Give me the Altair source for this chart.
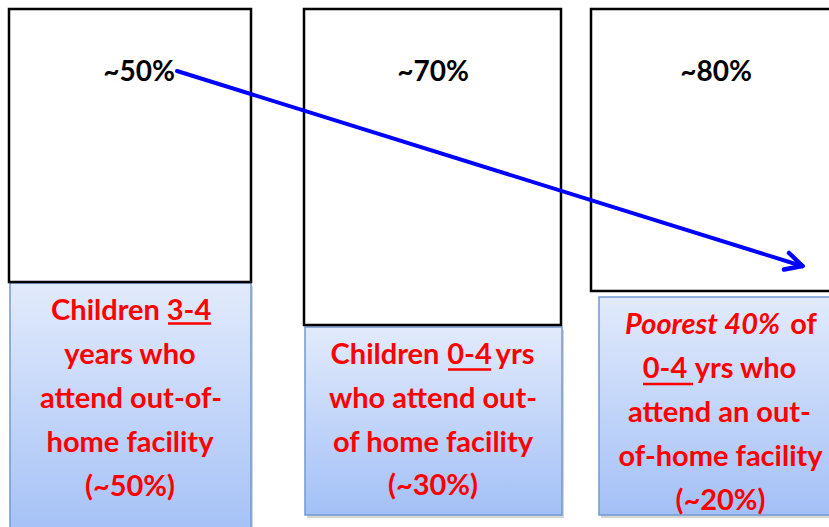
import altair as alt
import pandas as pd

W, H = 829, 527

# ---- data ----
panels = ["Children 3-4", "Children 0-4", "Poorest 40% 0-4"]
top_labels = ["~50%", "~70%", "~80%"]
top_label_x = [139, 433, 716]
top_label_y = [81, 81, 81]

white_x0 = [9, 304, 591]
white_x1 = [251, 561, 845]
white_y0 = [9, 9, 9]
white_y1 = [282, 325, 291]

blue_x0 = [10, 305, 599]
blue_x1 = [251, 562, 845]
blue_y0 = [283, 327, 297]
blue_y1 = [540, 515, 515]

seg_text = [
    "Children", "3-4", "years who", "attend out-of-", "home facility", "(~50%)",
    "Children", "0-4", "yrs", "who attend out-", "of home facility", "(~30%)",
    "Poorest 40%", "of", "0-4", "yrs who", "attend an out-", "of-home facility", "(~20%)",
]
seg_x = [
    105.5, 189, 130, 131, 130, 130,
    385, 469.5, 515, 433, 433, 433,
    702.5, 803.5, 665, 745.5, 719.5, 720.5, 720.5,
]
seg_y = [
    320, 320, 364, 408, 452, 496,
    364, 364, 364, 408, 452, 495,
    334, 334, 378, 378, 422, 466, 510,
]
seg_italic = [
    False, False, False, False, False, False,
    False, False, False, False, False, False,
    True, False, False, False, False, False, False,
]

ul_x0 = [168, 448, 643]
ul_x1 = [211, 491, 693]
ul_y = [323.5, 369.5, 384]

arrow_x0, arrow_y0, arrow_x1, arrow_y1 = [177], [71], [802], [266]
head_x0 = [789, 784]
head_y0 = [253, 269.5]
head_x1 = [802.5, 802.5]
head_y1 = [266, 266]

# ---- tables ----
xs = alt.Scale(domain=[0, W], range=[0, W])
ys = alt.Scale(domain=[0, H], range=[0, H])

boxes = pd.DataFrame({"panel": panels, "x0": white_x0, "x1": white_x1, "y0": white_y0, "y1": white_y1})
blue = pd.DataFrame({"panel": panels, "x0": blue_x0, "x1": blue_x1, "y0": blue_y0, "y1": blue_y1})
tops = pd.DataFrame({"t": top_labels, "x": top_label_x, "y": top_label_y})
segs = pd.DataFrame({"t": seg_text, "x": seg_x, "y": seg_y, "it": seg_italic})
uls = pd.DataFrame({"x0": ul_x0, "x1": ul_x1, "y": ul_y})
arrow = pd.DataFrame({"x0": arrow_x0, "y0": arrow_y0, "x1": arrow_x1, "y1": arrow_y1})
head = pd.DataFrame({"x0": head_x0, "y0": head_y0, "x1": head_x1, "y1": head_y1})


def rect_enc(dx=0, dy=0):
    return dict(
        x=alt.X("x0:Q", scale=xs, axis=None),
        x2="x1:Q",
        y=alt.Y("y0:Q", scale=ys, axis=None),
        y2="y1:Q",
    )


shadow = alt.Chart(blue).transform_calculate(
    x0="datum.x0 + 2", x1="datum.x1 + 2", y0="datum.y0 + 3", y1="datum.y1 + 3"
).mark_rect(fill="#888888", opacity=0.35).encode(**rect_enc())

blue_layer = alt.Chart(blue).mark_rect(
    fill=alt.Gradient(
        gradient="linear",
        stops=[alt.GradientStop(color="#e2ebfc", offset=0), alt.GradientStop(color="#a3c0f6", offset=1)],
        x1=0, x2=0, y1=0, y2=1,
    ),
    stroke="#7399cf",
    strokeWidth=1.5,
).encode(**rect_enc())

white_layer = alt.Chart(boxes).mark_rect(fill="white", stroke="black", strokeWidth=2.5).encode(**rect_enc())

top_text = alt.Chart(tops).mark_text(
    font="Lato", fontSize=28, fontWeight="bold", color="black", align="center", baseline="alphabetic"
).encode(x=alt.X("x:Q", scale=xs, axis=None), y=alt.Y("y:Q", scale=ys, axis=None), text="t:N")

body_text = alt.Chart(segs).transform_filter("!datum.it").mark_text(
    font="Lato", fontSize=29, fontWeight="bold", color="#ff0000", align="center", baseline="alphabetic"
).encode(x=alt.X("x:Q", scale=xs, axis=None), y=alt.Y("y:Q", scale=ys, axis=None), text="t:N")

italic_text = alt.Chart(segs).transform_filter("datum.it").mark_text(
    font="Lato", fontSize=29, fontWeight="bold", fontStyle="italic", color="#ff0000",
    align="center", baseline="alphabetic"
).encode(x=alt.X("x:Q", scale=xs, axis=None), y=alt.Y("y:Q", scale=ys, axis=None), text="t:N")

underline = alt.Chart(uls).mark_rule(color="#ff0000", strokeWidth=2.5).encode(
    x=alt.X("x0:Q", scale=xs, axis=None), x2="x1:Q", y=alt.Y("y:Q", scale=ys, axis=None)
)

arrow_line = alt.Chart(arrow).mark_rule(color="#0000ff", strokeWidth=4, strokeCap="round").encode(
    x=alt.X("x0:Q", scale=xs, axis=None), x2="x1:Q",
    y=alt.Y("y0:Q", scale=ys, axis=None), y2="y1:Q",
)
arrow_head = alt.Chart(head).mark_rule(color="#0000ff", strokeWidth=4.5, strokeCap="round").encode(
    x=alt.X("x0:Q", scale=xs, axis=None), x2="x1:Q",
    y=alt.Y("y0:Q", scale=ys, axis=None), y2="y1:Q",
)

chart = alt.layer(
    shadow, blue_layer, white_layer, top_text, body_text, italic_text, underline, arrow_line, arrow_head
).properties(
    width=W, height=H, padding=0, autosize="none", background="white"
).configure_view(stroke=None)

chart.save("out.html", embed_options={"renderer": "svg", "actions": False})
